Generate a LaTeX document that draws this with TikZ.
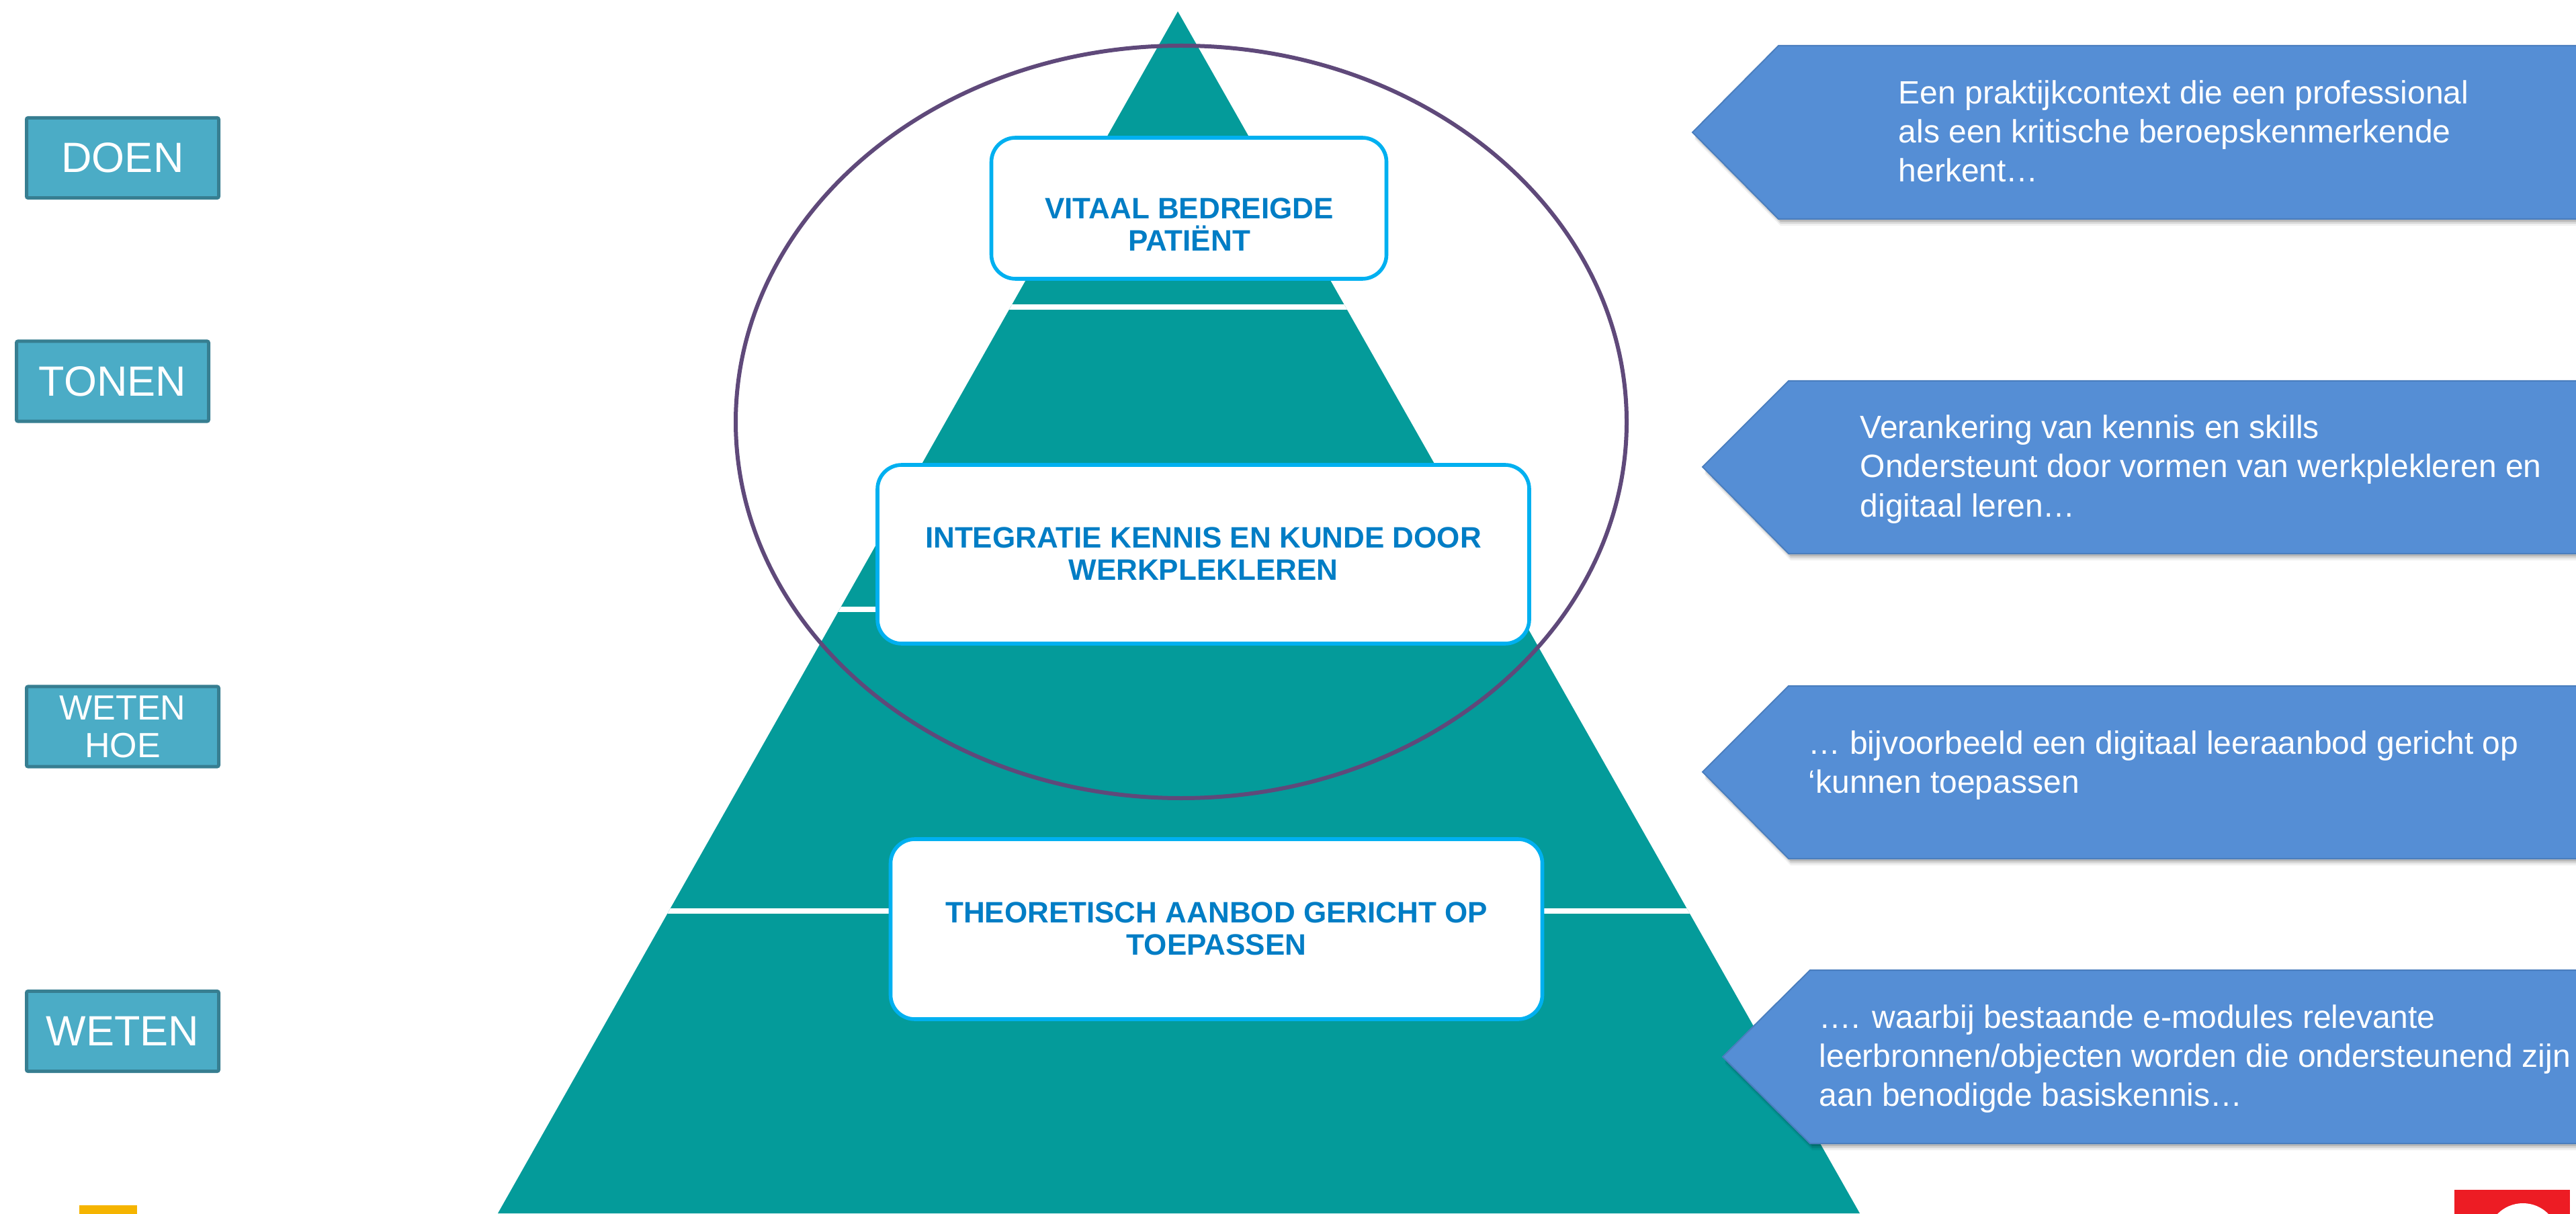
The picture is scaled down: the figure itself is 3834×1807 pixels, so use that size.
\documentclass[tikz,border=0pt]{standalone}
\usepackage{fontspec}
\setmainfont{Liberation Sans}
\definecolor{pyr}{RGB}{4,155,154}
\definecolor{bxborder}{RGB}{0,176,240}
\definecolor{bxtext}{RGB}{0,125,197}
\definecolor{lbfill}{RGB}{75,172,198}
\definecolor{lbdraw}{RGB}{55,126,145}
\definecolor{arfill}{RGB}{85,142,213}
\definecolor{ardraw}{RGB}{74,126,190}
\definecolor{ellcol}{RGB}{95,73,122}
\definecolor{logoyellow}{RGB}{245,180,0}
\definecolor{logored}{RGB}{237,28,36}
\begin{document}
\begin{tikzpicture}[x=0.25pt,y=-0.25pt,
  levelbox/.style={draw=bxborder, line width=1.4pt, fill=white, rounded corners=9pt, inner sep=0pt},
  leveltext/.style={text=bxtext, font=\fontsize{11pt}{12pt}\selectfont\bfseries, align=center, inner sep=0pt},
  sidebox/.style={draw=lbdraw, fill=lbfill, line width=1.25pt, rounded corners=0.6pt, minimum width=71.5pt, minimum height=29.8pt, inner sep=0pt, text=white, font=\fontsize{15.75pt}{18pt}\selectfont, align=center},
  arrowshape/.style={fill=arfill, draw=ardraw, line width=0.5pt},
  arrowshadow/.style={fill=black, opacity=0.12},
  arrowtext/.style={text=white, inner sep=0pt, anchor=base west},
  gapline/.style={draw=white, line width=2pt}
]
\useasboundingbox (0,0) rectangle (3834,1807);
\fill[white] (0,0) rectangle (3834,1807);

% pyramid
\coordinate (apex) at (1753,17);
\coordinate (bl) at (741,1806);
\coordinate (br) at (2768,1806);
\fill[pyr] (apex) -- (br) -- (bl) -- cycle;
\begin{scope}
  \clip (apex) -- (br) -- (bl) -- cycle;
  \draw[gapline] (600,457) -- (2900,457);
  \draw[gapline] (600,907) -- (2900,907);
  \draw[gapline] (600,1356) -- (2900,1356);
\end{scope}

% level boxes
\node[levelbox, minimum width=147pt, minimum height=52.5pt] (box1) at (1769.5,310) {};
\node[leveltext] (box1t) at (1770,334) {VITAAL BEDREIGDE\\PATIËNT};
\node[levelbox, minimum width=242.5pt, minimum height=66.5pt] (box2) at (1791,825) {};
\node[leveltext] (box2t) at (1791,824) {INTEGRATIE KENNIS EN KUNDE DOOR\\WERKPLEKLEREN};
\node[levelbox, minimum width=242.5pt, minimum height=67pt] (box3) at (1810.5,1383) {};
\node[leveltext] (box3t) at (1810.5,1382) {THEORETISCH AANBOD GERICHT OP\\TOEPASSEN};

% ellipse
\draw[ellcol, line width=1.5pt] (1758,628) ellipse [x radius=663, y radius=560];

% side labels
\node[sidebox] (doen) at (182.5,235) {DOEN};
\node[sidebox] (tonen) at (167.5,567.5) {TONEN};
\node[sidebox, font=\fontsize{13pt}{14pt}\selectfont] (wetenhoe) at (182.5,1081.5) {WETEN\\HOE};
\node[sidebox] (weten) at (182.5,1535) {WETEN};

% arrows (shadows)
\foreach \dy/\op in {10/0.06, 7/0.10, 4/0.14}{
  \fill[black, opacity=\op] (2522,197+\dy) -- (2650,68+\dy) -- (3860,68+\dy) -- (3860,326+\dy) -- (2650,326+\dy) -- cycle;
  \fill[black, opacity=\op] (2537,695+\dy) -- (2665,567+\dy) -- (3860,567+\dy) -- (3860,824+\dy) -- (2665,824+\dy) -- cycle;
  \fill[black, opacity=\op] (2537,1149+\dy) -- (2665,1021+\dy) -- (3860,1021+\dy) -- (3860,1278+\dy) -- (2665,1278+\dy) -- cycle;
  \fill[black, opacity=\op] (2567,1573+\dy) -- (2697,1444+\dy) -- (3860,1444+\dy) -- (3860,1702+\dy) -- (2697,1702+\dy) -- cycle;
}
% arrows
\draw[arrowshape] (2519,197) -- (2647,68) -- (3860,68) -- (3860,326) -- (2647,326) -- cycle;
\draw[arrowshape] (2534,695) -- (2662,567) -- (3860,567) -- (3860,824) -- (2662,824) -- cycle;
\draw[arrowshape] (2534,1149) -- (2662,1021) -- (3860,1021) -- (3860,1278) -- (2662,1278) -- cycle;
\draw[arrowshape] (2564,1573) -- (2694,1444) -- (3860,1444) -- (3860,1702) -- (2694,1702) -- cycle;

\node[arrowtext] (a1t) at (2825,155) {\parbox[t]{300pt}{\raggedright\fontsize{12pt}{14.5pt}\selectfont Een praktijkcontext die een professional\\als een kritische beroepskenmerkende\\herkent…}};
\node[arrowtext] (a2t) at (2768,653) {\parbox[t]{300pt}{\raggedright\fontsize{12pt}{14.5pt}\selectfont Verankering van kennis en skills\\Ondersteunt door vormen van werkplekleren en\\digitaal leren…}};
\node[arrowtext] (a3t) at (2691,1122) {\parbox[t]{300pt}{\raggedright\fontsize{12pt}{14.5pt}\selectfont … bijvoorbeeld een digitaal leeraanbod gericht op\\‘kunnen toepassen}};
\node[arrowtext] (a4t) at (2707,1530) {\parbox[t]{300pt}{\raggedright\fontsize{12pt}{14.5pt}\selectfont …. waarbij bestaande e-modules relevante\\leerbronnen/objecten worden die ondersteunend zijn\\aan benodigde basiskennis…}};

% logo fragments
\fill[logoyellow] (118,1794) rectangle (204,1810);
\begin{scope}
  \clip (3653,1771) rectangle (3825,1810);
  \fill[logored] (3653,1771) rectangle (3825,1810);
  \fill[white] (3755,1844) circle [radius=53];
\end{scope}
\end{tikzpicture}
\end{document}
